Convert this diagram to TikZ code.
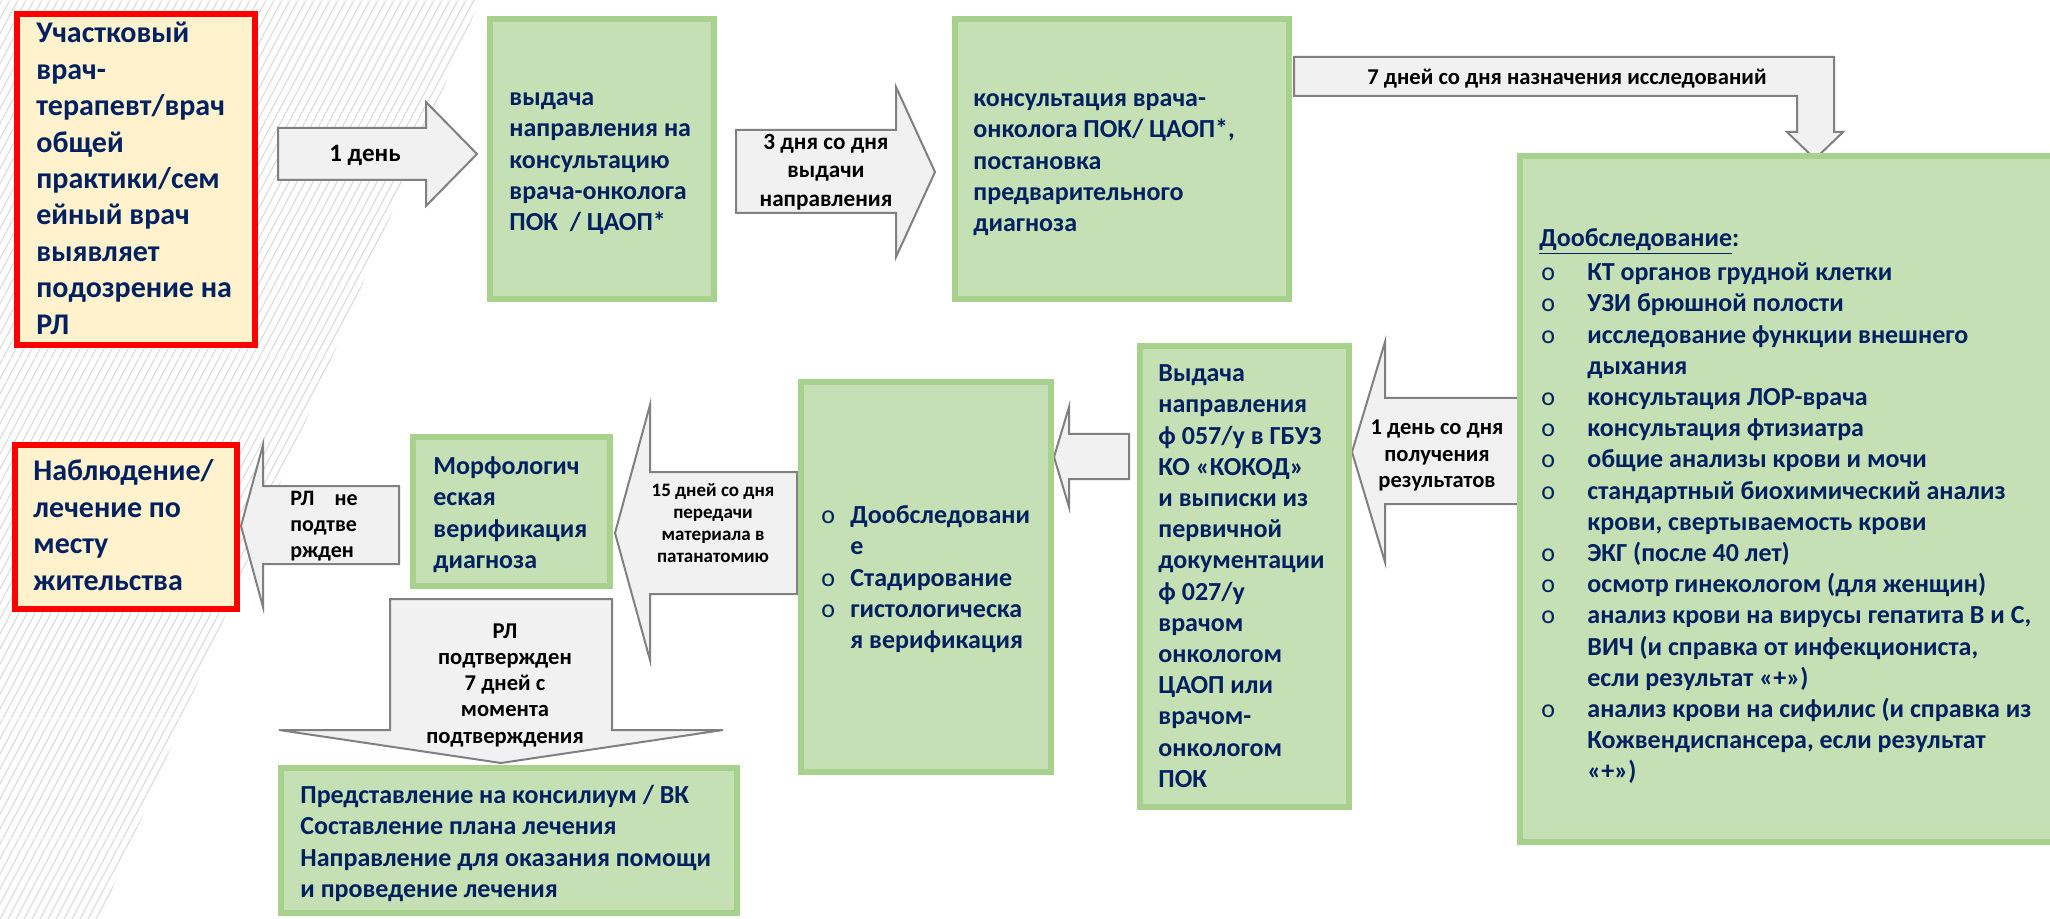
\documentclass[tikz,border=0pt]{standalone}
\usepackage{fontspec}
\setmainfont{Carlito}
\definecolor{navy}{RGB}{0,32,96}
\definecolor{greenfill}{RGB}{197,224,180}
\definecolor{greenline}{RGB}{169,209,142}
\definecolor{yellowfill}{RGB}{255,242,204}
\definecolor{arrowfill}{RGB}{241,241,241}
\definecolor{arrowline}{RGB}{128,128,128}
\definecolor{stripecol}{RGB}{222,222,222}
\newcommand\lbul{\makebox[24pt][l]{\hspace{1pt}\mdseries o}}
\newcommand\lind{\hspace*{24pt}}
\newcommand\sbul{\makebox[14.5pt][l]{\mdseries o}}
\newcommand\sind{\hspace*{14.5pt}}
\tikzset{
  greenbox/.style={fill=greenfill, draw=greenline, line width=3pt},
  redbox/.style={fill=yellowfill, draw=red, line width=3pt},
  blockarrow/.style={fill=arrowfill, draw=arrowline, line width=1pt, line join=miter},
  gtext/.style={inner sep=0pt, align=left, text=navy, font=\fontsize{13pt}{15.6pt}\selectfont\bfseries},
  rtext/.style={inner sep=0pt, align=left, text=navy, font=\fontsize{15pt}{18.2pt}\selectfont\bfseries},
  atext/.style={inner sep=0pt, align=center, text=black, font=\fontsize{11.3pt}{14.25pt}\selectfont\bfseries},
  stripe/.style={draw=stripecol, line width=0.6pt}
}
\begin{document}
\begin{tikzpicture}[x=0.5pt,y=-0.5pt]
\useasboundingbox (0,0) rectangle (2050,919);
\fill[white] (0,0) rectangle (2050,919);
% background stripes
\begin{scope}
  \clip (0,0) -- (480,0) -- (100,919) -- (0,919) -- cycle;
  \foreach \i in {-64,...,14} {\draw[stripe] (\i*8,919) -- (\i*8+490,0);}
\end{scope}

% block arrows
\draw[blockarrow] (278,128) -- (426,128) -- (426,102) -- (477,154) -- (426,206) -- (426,180) -- (278,180) -- cycle;
\draw[blockarrow] (736,130) -- (896,130) -- (896,87) -- (935,172) -- (896,257) -- (896,213) -- (736,213) -- cycle;
\draw[blockarrow] (1294,57) -- (1834,57) -- (1834,132) -- (1843,132) -- (1815,159) -- (1787,132) -- (1797,132) -- (1797,96) -- (1294,96) -- cycle;
\draw[blockarrow] (1522,398) -- (1385,398) -- (1385,342) -- (1352,452) -- (1385,562) -- (1385,504) -- (1522,504) -- cycle;
\draw[blockarrow] (1129,434) -- (1069,434) -- (1069,407) -- (1054,457) -- (1069,507) -- (1069,479) -- (1129,479) -- cycle;
\draw[blockarrow] (797,472) -- (650,472) -- (650,405) -- (615,533) -- (650,660) -- (650,594) -- (797,594) -- cycle;
\draw[blockarrow] (399,486) -- (263,486) -- (263,445) -- (241,526) -- (263,607) -- (263,564) -- (399,564) -- cycle;
\draw[blockarrow] (390,599) -- (612,599) -- (612,730) -- (723,730) -- (501,763) -- (279,730) -- (390,730) -- cycle;

% boxes
\draw[redbox] (17,14) rectangle (255,345);
\draw[greenbox] (490,19) rectangle (714,299);
\draw[greenbox] (955,19) rectangle (1289,299);
\draw[greenbox] (1520,156) rectangle (2058,842);
\draw[greenbox] (1140,346) rectangle (1349,807);
\draw[greenbox] (801,382) rectangle (1051,772);
\draw[greenbox] (413,437) rectangle (610,586);
\draw[redbox] (15,445) rectangle (237,609);
\draw[greenbox] (281,768) rectangle (737,913);

% box texts
\node[rtext, anchor=north west] (t1) at (36,17) {\strut Участковый\\врач-\\терапевт/врач\\общей\\практики/сем\\ейный врач\\выявляет\\подозрение на\\РЛ};
\node[gtext, anchor=north west] (t2) at (509,83.5) {\strut выдача\\направления на\\консультацию\\врача-онколога\\ПОК\ \ / ЦАОП*};
\node[gtext, anchor=north west] (t3) at (973,84.5) {\strut консультация врача-\\онколога ПОК/ ЦАОП*,\\постановка\\предварительного\\диагноза};
\node[gtext, anchor=north west] (t4h) at (1539,224.5) {\strut\underline{Дообследование}:};
\node[gtext, anchor=north west] (t4) at (1539,258.5) {\strut\lbul КТ органов грудной клетки\\
\lbul УЗИ брюшной полости\\
\lbul исследование функции внешнего\\
\lind дыхания\\
\lbul консультация ЛОР-врача\\
\lbul консультация фтизиатра\\
\lbul общие анализы крови и мочи\\
\lbul стандартный биохимический анализ\\
\lind крови, свертываемость крови\\
\lbul ЭКГ (после 40 лет)\\
\lbul осмотр гинекологом (для женщин)\\
\lbul анализ крови на вирусы гепатита В и С,\\
\lind ВИЧ (и справка от инфекциониста,\\
\lind если результат «+»)\\
\lbul анализ крови на сифилис (и справка из\\
\lind Кожвендиспансера, если результат\\
\lind «+»)};
\node[gtext, anchor=north west] (t5) at (1158,359.5) {\strut Выдача\\направления\\ф 057/у в ГБУЗ\\КО «КОКОД»\\и выписки из\\первичной\\документации\\ф 027/у\\врачом\\онкологом\\ЦАОП или\\врачом-\\онкологом\\ПОК};
\node[gtext, anchor=north west] (t6) at (821,501.5) {\strut\sbul Дообследовани\\\sind е\\\sbul Стадирование\\\sbul гистологическа\\\sind я верификация};
\node[gtext, anchor=north west] (t7) at (433,452.5) {\strut Морфологич\\еская\\верификация\\диагноза};
\node[rtext, anchor=north west] (t8) at (33,455) {\strut Наблюдение/\\лечение по\\месту\\жительства};
\node[gtext, anchor=north west] (t9) at (300,781.5) {\strut Представление на консилиум / ВК\\Составление плана лечения\\Направление для оказания помощи\\и проведение лечения};

% arrow texts
\node[atext, font=\fontsize{12.5pt}{15pt}\selectfont\bfseries] (a1) at (365,155) {1 день};
\node[atext, anchor=north, font=\fontsize{11.6pt}{14.25pt}\selectfont\bfseries] (a2) at (826,129) {\strut 3 дня со дня\\выдачи\\направления};
\node[atext] (a3) at (1567,79) {7 дней со дня назначения исследований};
\node[atext, anchor=north, font=\fontsize{11.3pt}{13.25pt}\selectfont\bfseries] (a4) at (1437,416) {\strut 1 день со дня\\получения\\результатов};
\node[atext, anchor=north, font=\fontsize{9.5pt}{11pt}\selectfont\bfseries] (a5) at (713,480.5) {\strut 15 дней со дня\\передачи\\материала в\\патанатомию};
\node[atext, anchor=north west, align=left, font=\fontsize{11pt}{13pt}\selectfont\bfseries] (a6) at (290,487) {\strut РЛ\hspace*{10pt}не\\подтве\\ржден};
\node[atext, anchor=north, font=\fontsize{11.3pt}{13.1pt}\selectfont\bfseries] (a7) at (505,619.5) {\strut РЛ\\подтвержден\\7 дней с\\момента\\подтверждения};
\end{tikzpicture}
\end{document}
